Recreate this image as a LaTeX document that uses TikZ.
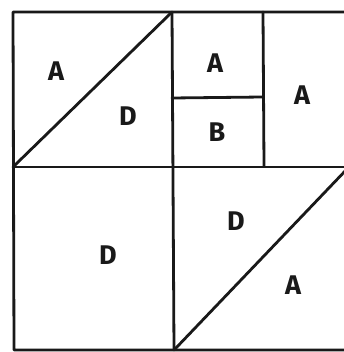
\documentclass[tikz,border=0pt]{standalone}
\usepackage{fontspec}
\setmainfont{Fira Sans}
\begin{document}
\begin{tikzpicture}[x=1pt,y=-1pt,
  edge/.style={line width=2.8pt,line cap=round,line join=round,black!90},
  lbl/.style={font=\fontsize{27}{27}\selectfont\bfseries,inner sep=0pt,black!90}]
\useasboundingbox[fill=white] (0,0) rectangle (344,352);
% outer frame (right side beyond picture)
\draw[edge] (348,12) -- (13,12) -- (14,350) -- (348,350);
% middle horizontal
\draw[edge] (13,167) -- (348,167);
% main vertical
\draw[edge] (172,12) -- (174,350);
% small vertical
\draw[edge] (263,12) -- (264,166);
% small horizontal
\draw[edge] (172,98) -- (263,97);
% diagonals
\draw[edge] (13,167) -- (171,13);
\draw[edge] (175,349) -- (348,168);
% labels
\node[lbl] (a1) at (56,71) {A};
\node[lbl] (d1) at (128,116) {D};
\node[lbl] (a2) at (215,63) {A};
\node[lbl] (b1) at (217,132) {B};
\node[lbl] (a3) at (302,95) {A};
\node[lbl] (d2) at (108,255) {D};
\node[lbl] (d3) at (236,221) {D};
\node[lbl] (a4) at (293,285) {A};
\end{tikzpicture}
\end{document}
